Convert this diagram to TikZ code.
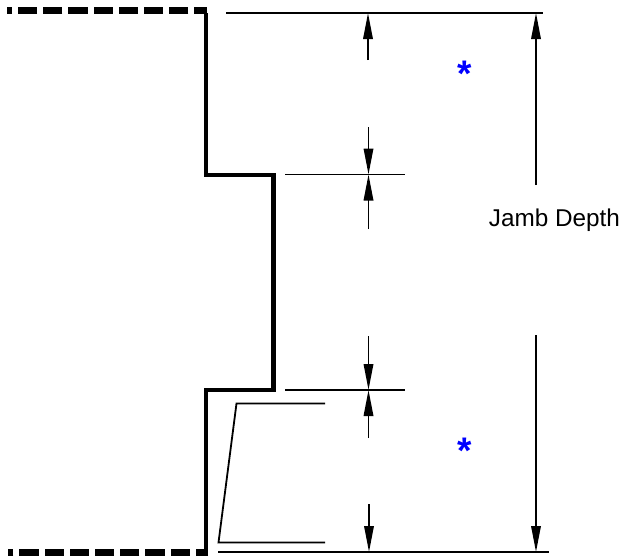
\documentclass[tikz,border=0pt]{standalone}
\usepackage{fontspec}
\setmainfont{Liberation Sans}
\usetikzlibrary{arrows.meta}
\tikzset{
  wall/.style={line width=4.2pt,miter limit=10},
  wallbreak/.style={line width=6.6pt,dash pattern=on 19.2pt off 6pt},
  profile/.style={line width=1.8pt,line join=miter},
  extline/.style={line width=1.7pt},
  dimline/.style={line width=1.7pt,-{Triangle[length=26pt,width=9.5pt]}},
  jamblabel/.style={inner sep=0pt,font=\fontsize{24.3}{28}\selectfont},
  starmark/.style={inner sep=0pt,text=blue,font=\fontsize{37}{40}\selectfont\bfseries}
}
\begin{document}
\begin{tikzpicture}[x=1pt,y=-1pt]
\useasboundingbox (0,0) rectangle (621,557);
% wall outline
\coordinate (w1) at (206,13);
\coordinate (w2) at (206,175);
\coordinate (w3) at (273.5,175);
\coordinate (w4) at (273.5,390);
\coordinate (w5) at (206,390);
\coordinate (w6) at (206,551);
\draw[wall] (w1) -- (w2) -- (w3) -- (w4) -- (w5) -- (w6);
% break lines
\coordinate (t0) at (206.7,10.5);
\coordinate (t1) at (7,10.5);
\coordinate (b0) at (208,552.5);
\coordinate (b1) at (8,552.5);
\draw[wallbreak,dash phase=6.9pt] (t0) -- (t1);
\draw[wallbreak,dash phase=6.9pt] (b0) -- (b1);
% profile
\coordinate (p1) at (325,403.5);
\coordinate (p2) at (236.5,403.5);
\coordinate (p3) at (218.5,542.5);
\coordinate (p4) at (325,542.5);
\draw[profile] (p1) -- (p2) -- (p3) -- (p4);
% extension lines
\coordinate (e1a) at (226,13); \coordinate (e1b) at (543,13);
\coordinate (e2a) at (285,174.5); \coordinate (e2b) at (405,174.5);
\coordinate (e3a) at (285,390); \coordinate (e3b) at (405,390);
\coordinate (e4a) at (218,552); \coordinate (e4b) at (549,552);
\draw[extline] (e1a) -- (e1b);
\draw[extline] (e2a) -- (e2b);
\draw[extline] (e3a) -- (e3b);
\draw[extline] (e4a) -- (e4b);
% dimension arrows
\coordinate (a1s) at (368,60);    \coordinate (a1e) at (368,13);
\coordinate (a2s) at (368.5,127); \coordinate (a2e) at (368.5,174.5);
\coordinate (a3s) at (368.5,229); \coordinate (a3e) at (368.5,174.5);
\coordinate (a4s) at (368.5,336); \coordinate (a4e) at (368.5,390);
\coordinate (a5s) at (368.5,438); \coordinate (a5e) at (368.5,390);
\coordinate (a6s) at (369,504);   \coordinate (a6e) at (369,552);
\coordinate (a7s) at (536,185);   \coordinate (a7e) at (536,13);
\coordinate (a8s) at (536,335);   \coordinate (a8e) at (536,552);
\draw[dimline] (a1s) -- (a1e);
\draw[dimline] (a2s) -- (a2e);
\draw[dimline] (a3s) -- (a3e);
\draw[dimline] (a4s) -- (a4e);
\draw[dimline] (a5s) -- (a5e);
\draw[dimline] (a6s) -- (a6e);
\draw[dimline] (a7s) -- (a7e);
\draw[dimline] (a8s) -- (a8e);
% labels
\node[jamblabel] (jamb) at (554.5,220.5) {Jamb Depth};
\node[starmark] (star1) at (464.5,74) {*};
\node[starmark] (star2) at (465,450.5) {*};
\end{tikzpicture}
\end{document}
